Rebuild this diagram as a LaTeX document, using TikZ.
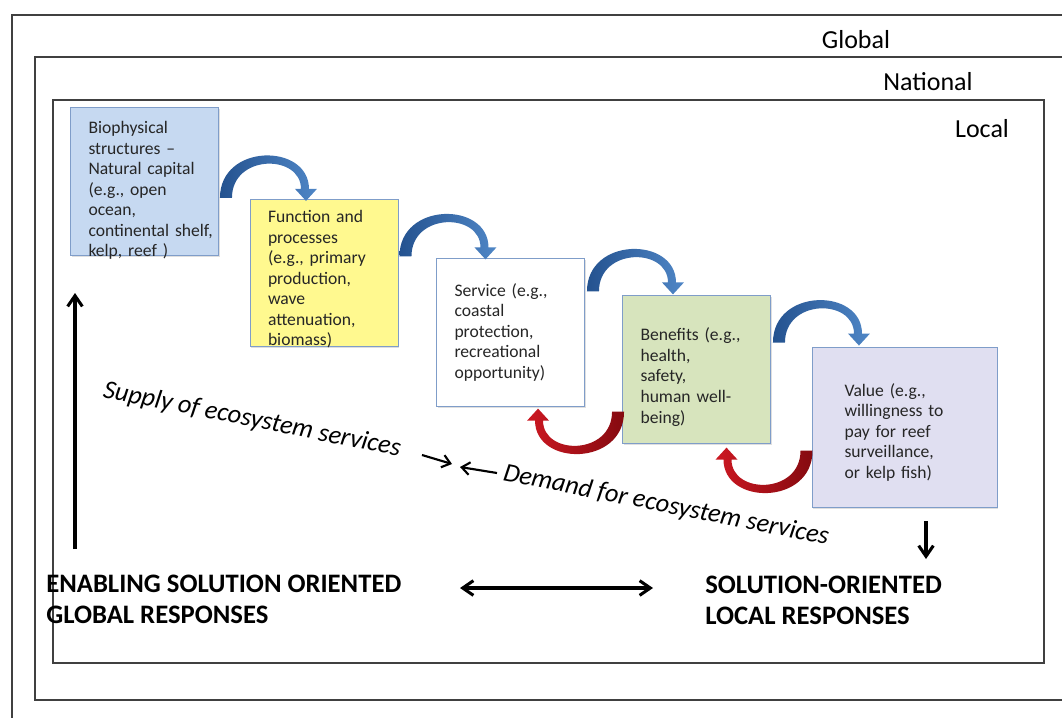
\documentclass[tikz,border=0pt]{standalone}
\usepackage{fontspec}
\setmainfont{Carlito}
\usepackage{xcolor}
\usepackage{tikz}
\usetikzlibrary{arrows.meta,positioning,shadows,calc}

\definecolor{bioblue}{HTML}{C6D9F1}
\definecolor{funyellow}{HTML}{FFF98F}
\definecolor{bengreen}{HTML}{D7E4BD}
\definecolor{vallilac}{HTML}{E0DFF1}
\definecolor{boxedge}{HTML}{7F9DC9}
\definecolor{framegray}{HTML}{404040}
\definecolor{arcblue}{HTML}{24528F}
\definecolor{arcblue2}{HTML}{4F86C6}
\definecolor{arcred}{HTML}{850A10}
\definecolor{arcred2}{HTML}{CC1822}

\newcommand{\boxfont}{\fontsize{13.2}{15.4}\selectfont}
\newcommand{\levelfont}{\fontsize{19.5}{23}\selectfont}
\newcommand{\flowfont}{\fontsize{19.7}{23}\selectfont\itshape}
\newcommand{\respfont}{\fontsize{20}{23.3}\selectfont\bfseries}

% tapered bent arrow, base at the origin, bending up and over to the right
\tikzset{
  pics/bend/.style={code={
    \shade[#1] (0,0) .. controls (0,-55) and (89,-55) .. (89,-9) -- (97,-9) -- (86,3)
      -- (75,-9) -- (81,-9) .. controls (81,-44) and (12,-44) .. (12,0) -- cycle;
  }}
}

\begin{document}
\begin{tikzpicture}[x=0.75pt,y=-0.75pt,>={Straight Barb[length=8pt,width=11pt]},
  box/.style={draw=boxedge, line width=0.7pt, align=left, text width=84pt, inner xsep=13.5pt,
    minimum width=111pt, minimum height=110.5pt, text height=17.5pt, font=\boxfont, text=black!85,
    drop shadow={shadow xshift=1pt, shadow yshift=-1.2pt, opacity=.25}},
  % seven lines do not fit: hang them from the top and let them run over
  long box/.style={box, text height=12pt},
  level/.style={font=\levelfont, anchor=base, inner sep=0pt},
  flow/.style={font=\flowfont, anchor=base west, inner sep=0pt, rotate=-11.3},
  resp/.style={font=\respfont, anchor=north west, align=left, inner sep=0pt},
  frame/.style={draw=framegray, line width=0.9pt},
  bold arrow/.style={line width=2.3pt},
  thin arrow/.style={line width=1.6pt, -{Straight Barb[length=6pt,width=9.5pt]}},
  blue bend/.style={left color=arcblue, right color=arcblue2},
  red bend/.style={left color=arcred2, right color=arcred}]

  \useasboundingbox (0,0) rectangle (1062,718);

  % nested scales
  \draw[frame] (1062,15) -- (12,15) -- (12,718);
  \draw[frame] (1062,57) -- (35,57) -- (35,700) -- (1062,700);
  \draw[frame] (53,100) rectangle (1044,663);

  \node[level] (global) at (856,48) {Global};
  \node[level] (national) at (928,90) {National};
  \node[level] (local) at (982,137) {Local};

  % the cascade
  \node[long box, fill=bioblue, text depth=84pt] (bio) at (144.5,181.5)
    {Biophysical\\structures –\\Natural capital\\(e.g., open\\ocean,\\continental~shelf,\\kelp, reef )};
  \node[long box, fill=funyellow, text depth=87.5pt] (fun) at (324,273)
    {Function and\\processes\\(e.g., primary\\production,\\wave\\attenuation,\\biomass)};
  \node[box, fill=white, text height=9pt] (ser) at (510.5,332.5)
    {Service (e.g.,\\coastal\\protection,\\recreational\\opportunity)};
  \node[box, fill=bengreen, text height=21pt] (ben) at (696.5,369.5)
    {Benefits (e.g.,\\health,\\safety,\\human well-\\being)};
  \node[box, fill=vallilac, text width=90pt, inner xsep=24.4pt, minimum width=138.75pt,
    minimum height=120pt] (val) at (904.5,427)
    {Value (e.g.,\\willingness to\\pay for reef\\surveillance,\\or kelp fish)};

  % supply bends forward, demand bends back
  \pic at ($(bio.east |- fun.north)+(1,-1)$) {bend=blue bend};
  \pic at ($(fun.east |- ser.north)+(1,-2)$) {bend=blue bend};
  \pic at ($(ser.east |- ben.north)+(2,-4)$) {bend=blue bend};
  \pic at ($(ben.east |- val.north)+(2,-4)$) {bend=blue bend};
  \pic[rotate=180] at ($(ben.west |- ser.south)+(2,5)$) {bend=red bend};
  \pic[rotate=180] at ($(val.west |- ben.south)+(1,7)$) {bend=red bend};

  \node[flow] (supply) at (102,397) {Supply of ecosystem services};
  \node[flow] (demand) at (502,480) {Demand for ecosystem services};

  \node[resp] (globresp) at (46,575) {ENABLING SOLUTION ORIENTED\\GLOBAL RESPONSES};
  \node[resp] (locresp) at (705,576) {SOLUTION-ORIENTED\\LOCAL RESPONSES};

  \coordinate (risefoot) at (75,549);
  \coordinate (risehead) at (75,293);
  \coordinate (dropfoot) at (926,521);
  \coordinate (drophead) at (926,559);
  \coordinate (linkleft) at (460,588);
  \coordinate (linkright) at (653,588);
  \coordinate (supplyfoot) at (422,455);
  \coordinate (supplyhead) at (452,464);
  \coordinate (demandfoot) at (497,473);
  \coordinate (demandhead) at (460,467);

  \draw[bold arrow, ->] (risefoot) -- (risehead);
  \draw[bold arrow, ->] (dropfoot) -- (drophead);
  \draw[bold arrow, <->] (linkleft) -- (linkright);
  \draw[thin arrow] (supplyfoot) -- (supplyhead);
  \draw[thin arrow] (demandfoot) -- (demandhead);

\end{tikzpicture}
\end{document}
